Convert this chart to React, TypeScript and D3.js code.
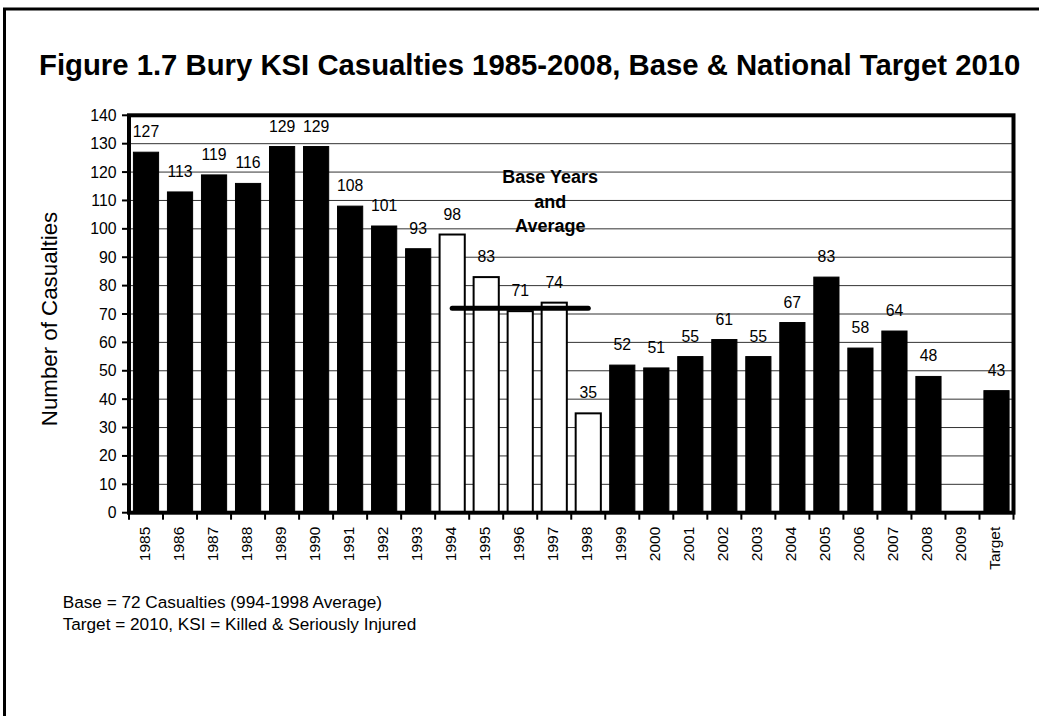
import React from 'react';
import * as d3 from 'd3';

const categories = ['1985','1986','1987','1988','1989','1990','1991','1992','1993','1994','1995','1996','1997','1998','1999','2000','2001','2002','2003','2004','2005','2006','2007','2008','2009','Target'];
const values: (number | null)[] = [127,113,119,116,129,129,108,101,93,98,83,71,74,35,52,51,55,61,55,67,83,58,64,48,null,43];
const baseYears = ['1994','1995','1996','1997','1998'];
const baseAverage = 72;
const yTicks = [0,10,20,30,40,50,60,70,80,90,100,110,120,130,140];
const titleText = 'Figure 1.7 Bury KSI Casualties 1985-2008, Base & National Target 2010';
const yAxisTitle = 'Number of Casualties';
const annotationLines = ['Base Years', 'and', 'Average'];
const footnotes = ['Base = 72 Casualties (994-1998 Average)', 'Target = 2010, KSI = Killed & Seriously Injured'];

const W = 1039, H = 716;
const FONT = '"Liberation Sans", Arial, Helvetica, sans-serif';

export default function App() {
  const left = 129, right = 1013.5, top = 115.3, bottom = 512.7;
  const x = d3.scaleBand<string>().domain(categories).range([left, right]).paddingInner(0.26).paddingOuter(0.13);
  const y = d3.scaleLinear().domain([0, 140]).range([bottom, top]);
  const bw = x.bandwidth();
  const step = x.step();
  const cx = (c: string) => (x(c) as number) + bw / 2;
  const boundaries = d3.range(categories.length + 1).map(i => left + i * step);

  return (
    <svg width={W} height={H} style={{ position: 'absolute', left: 0, top: 0, display: 'block', background: '#fff' }} fontFamily={FONT}>
      <rect x={0} y={0} width={W} height={H} fill="#fff" />
      <rect x={4.5} y={9} width={W + 100} height={H + 100} fill="none" stroke="#000" strokeWidth={3} />
      <text x={39} y={75} fontSize={29.3} fontWeight="bold" fill="#000">{titleText}</text>

      {/* gridlines */}
      {yTicks.map(t => (
        <line key={'g' + t} x1={left} x2={right} y1={y(t)} y2={y(t)} stroke="#333" strokeWidth={1} />
      ))}

      {/* bars */}
      {categories.map((c, i) => {
        const v = values[i];
        if (v == null) return null;
        const isBase = baseYears.includes(c);
        return (
          <rect key={'b' + c} x={x(c)} y={y(v)} width={bw} height={y(0) - y(v)}
            fill={isBase ? '#fff' : '#000'} stroke="#000" strokeWidth={isBase ? 2 : 1} />
        );
      })}

      {/* base average line */}
      <line x1={cx(baseYears[0])} x2={cx(baseYears[baseYears.length - 1])} y1={y(baseAverage)} y2={y(baseAverage)}
        stroke="#000" strokeWidth={5} strokeLinecap="round" />

      {/* value labels */}
      {categories.map((c, i) => {
        const v = values[i];
        if (v == null) return null;
        return (
          <text key={'v' + c} x={cx(c)} y={y(v) - 15} fontSize={15.8} textAnchor="middle" fill="#000">{v}</text>
        );
      })}

      {/* annotation */}
      {annotationLines.map((l, i) => (
        <text key={'a' + i} x={cx('1997') - 4} y={183 + i * 24.5} fontSize={18} fontWeight="bold" textAnchor="middle" fill="#000">{l}</text>
      ))}

      {/* plot border */}
      <rect x={left} y={top} width={right - left} height={bottom - top} fill="none" stroke="#000" strokeWidth={4} />

      {/* y ticks */}
      {yTicks.map(t => (
        <g key={'y' + t}>
          <line x1={left - 7} x2={left} y1={y(t)} y2={y(t)} stroke="#000" strokeWidth={2} />
          <text x={116.5} y={y(t)} dy="0.35em" fontSize={15.8} textAnchor="end" fill="#000">{t}</text>
        </g>
      ))}

      {/* x ticks */}
      {boundaries.map((b, i) => (
        <line key={'xt' + i} x1={b} x2={b} y1={bottom} y2={bottom + 7} stroke="#000" strokeWidth={2} />
      ))}
      {categories.map(c => (
        <text key={'xl' + c} transform={`translate(${cx(c) - 1.5},${bottom + 14}) rotate(-90)`} dy="0.35em"
          fontSize={15.5} textAnchor="end" fill="#000">{c}</text>
      ))}

      {/* y axis title */}
      <text transform={`translate(57,319) rotate(-90)`} fontSize={22.3} textAnchor="middle" fill="#000">{yAxisTitle}</text>

      {/* footnotes */}
      {footnotes.map((f, i) => (
        <text key={'f' + i} x={62.7} y={608 + i * 22} fontSize={17.2} fill="#000">{f}</text>
      ))}
    </svg>
  );
}
